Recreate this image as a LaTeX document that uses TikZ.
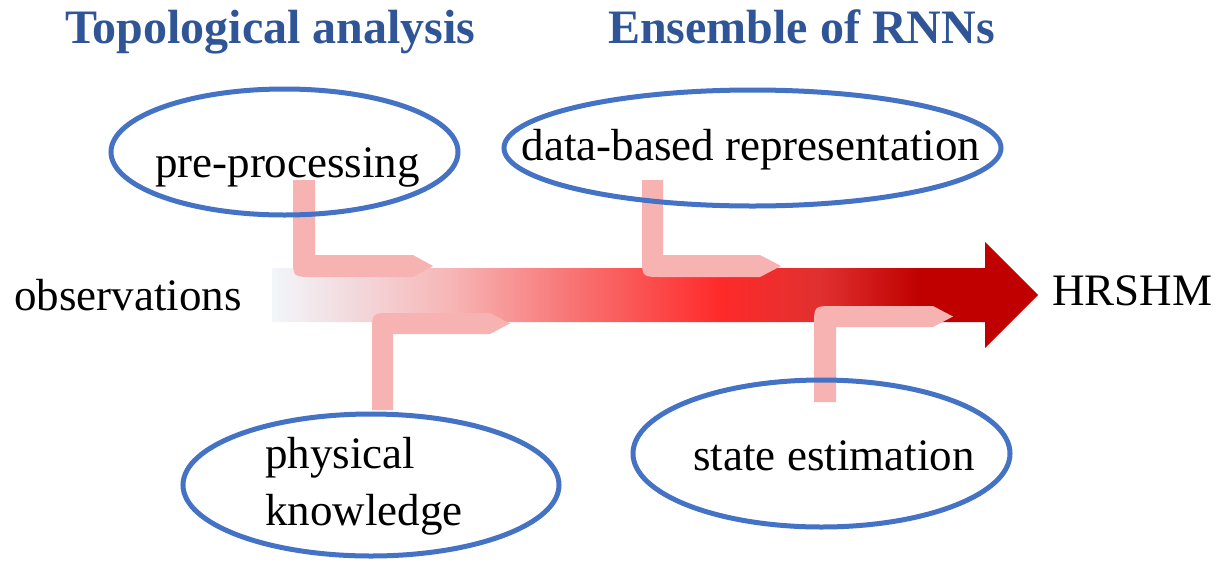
\documentclass[tikz,border=0pt]{standalone}
\usepackage{fontspec}
\setmainfont{Liberation Serif}
\usetikzlibrary{shapes.geometric}
\definecolor{ovalblue}{RGB}{68,114,196}
\definecolor{titleblue}{RGB}{47,85,151}
\definecolor{pinkflowc}{RGB}{247,178,178}
\definecolor{fc0}{RGB}{242,246,250}
\definecolor{fc1}{RGB}{242,218,222}
\definecolor{fc2}{RGB}{247,182,182}
\definecolor{fc3}{RGB}{248,122,122}
\definecolor{fc4}{RGB}{255,42,42}
\definecolor{fc5}{RGB}{224,48,48}
\definecolor{fc6}{RGB}{192,0,0}
\pgfdeclarehorizontalshading{mainflow}{100bp}{color(0bp)=(fc0); color(25bp)=(fc0); color(30.1bp)=(fc1); color(36.6bp)=(fc2); color(43.8bp)=(fc3); color(54.2bp)=(fc4); color(60.8bp)=(fc5); color(67.3bp)=(fc6); color(75bp)=(fc6); color(100bp)=(fc6)}
\tikzset{
  oval/.style={ellipse, draw=ovalblue, line width=5pt, inner sep=0pt},
  lbl/.style={inner sep=0pt, font=\fontsize{45}{57}\selectfont, text=black},
  ttl/.style={inner sep=0pt, font=\fontsize{48}{55}\selectfont\bfseries, text=titleblue},
  pinkflow/.style={fill=pinkflowc},
}
\begin{document}
\begin{tikzpicture}[x=1pt, y=-1pt]
\useasboundingbox (0,0) rectangle (1218,563);
% titles
\node[ttl, anchor=base west] (t1) at (65,43) {Topological analysis};
\node[ttl, anchor=base west] (t2) at (608,43) {Ensemble of RNNs};
% main flow arrow
\coordinate (flowstart) at (272,295);
\coordinate (flowtip) at (1038,295);
\shade[shading=mainflow] (272,268) -- (985,268) -- (985,242) -- (flowtip) -- (985,348) -- (985,322) -- (272,322) -- cycle;
\node[lbl, anchor=base west] (obs) at (14,310) {observations};
\node[lbl, anchor=base west] (hrshm) at (1052,305) {HRSHM};
% pink bent arrows
\fill[pinkflow] (293,180) -- (315,180) -- (315,255) -- (413,255) -- (433,266) -- (413,277) -- (313,277) .. controls (293,277) .. (293,257) -- cycle;
\fill[pinkflow] (642,180) -- (663,180) -- (663,255) -- (760,255) -- (781,266) -- (760,277) -- (662,277) .. controls (642,277) .. (642,257) -- cycle;
\fill[pinkflow] (372,410) -- (372,333) .. controls (372,313) .. (392,313) -- (490,313) -- (510,323.5) -- (490,334) -- (393,334) -- (393,410) -- cycle;
\fill[pinkflow] (814,402) -- (814,326) .. controls (814,306) .. (834,306) -- (933,306) -- (953,316.5) -- (933,327) -- (836,327) -- (836,402) -- cycle;
% ovals
\node[oval, minimum width=347pt, minimum height=126pt] (pre) at (284.5,152) {};
\node[oval, minimum width=497pt, minimum height=116pt] (data) at (752.5,148) {};
\node[oval, minimum width=376pt, minimum height=142pt] (phys) at (371,485) {};
\node[oval, minimum width=377pt, minimum height=147pt] (state) at (821.5,453.5) {};
\node[lbl, anchor=base] (pretxt) at (287.5,177) {pre-processing};
\node[lbl, anchor=base] (datatxt) at (751,160) {data-based representation};
\node[lbl, anchor=base west, align=left] (phystxt) at (265,525) {physical\\knowledge};
\node[lbl, anchor=base] (statetxt) at (834,470) {state estimation};
\end{tikzpicture}
\end{document}
